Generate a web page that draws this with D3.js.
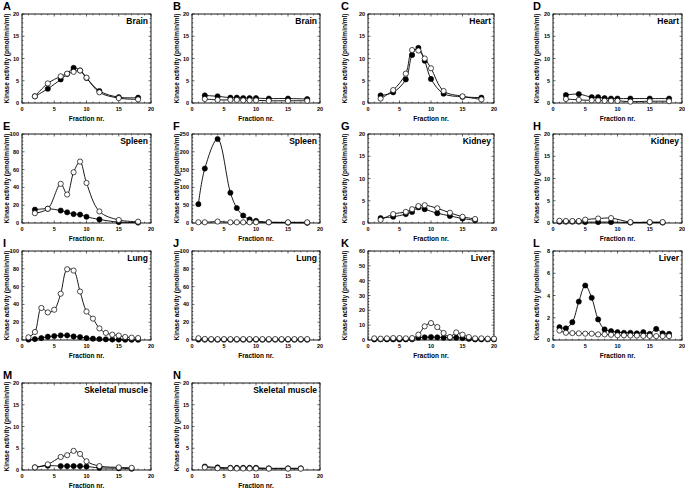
<!DOCTYPE html>
<html>
<head>
<style>
  body { margin: 0; background: #fff; overflow: hidden; }
  text { font-family: "Liberation Sans", Arial, sans-serif; font-weight: bold; fill: #000; }
  .tick text { font-size: 5.5px; }
  .letter { font-size: 11px; }
  .tissue { font-size: 8.5px; }
  .axlab { font-size: 6.5px; }
</style>
<script src="https://d3js.org/d3.v7.min.js"></script>
</head>
<body>
<svg width="685" height="491"></svg>
<script>
// ---- data ----
var fracStd = [2, 4, 6, 7, 8, 9, 10, 12, 15, 18];

var brainFilledA = [1.5, 3.2, 5.3, 6.5, 7.9, 7.3, 5.6, 2.7, 1.3, 1.2];
var brainOpenA   = [1.5, 4.4, 6.0, 6.6, 7.0, 7.3, 5.7, 2.4, 1.1, 0.8];
var brainFilledB = [1.7, 1.5, 1.2, 1.2, 1.1, 1.1, 1.1, 1.0, 1.0, 0.9];
var brainOpenB   = [0.9, 0.7, 0.7, 0.7, 0.6, 0.6, 0.6, 0.5, 0.5, 0.5];

var heartFilledC = [1.7, 2.4, 5.3, 10.8, 12.4, 9.5, 5.4, 2.1, 1.4, 1.2];
var heartOpenC   = [1.0, 2.9, 6.6, 11.9, 11.8, 10.0, 7.8, 2.7, 1.5, 0.8];
var heartFilledD = [1.8, 2.0, 1.3, 1.3, 1.1, 1.0, 1.0, 1.0, 1.0, 1.0];
var heartOpenD   = [0.9, 0.7, 0.6, 0.6, 0.5, 0.5, 0.5, 0.3, 0.4, 0.4];

var spleenFilledE = [15, 16, 14, 12, 10, 9.5, 7, 4, 1, 0.5];
var spleenOpenE   = [11, 16, 44, 32, 57, 69, 45, 13, 3.4, 1.5];

var fracF = [1, 2, 4, 6, 7, 8, 9, 10, 12, 15, 18];
var spleenFilledF = [53, 153, 236, 85, 42, 21, 10, 6, 2, 1, 0.5];
var spleenOpenF   = [2, 2, 4, 2, 2, 2, 2, 2, 2, 2, 2];

var fracG = [2, 4, 6, 7, 8, 9, 11, 13, 15, 17];
var kidneyFilledG = [1.1, 1.4, 2.0, 2.5, 3.5, 3.1, 2.2, 1.6, 1.0, 0.6];
var kidneyOpenG   = [0.7, 2.0, 2.5, 3.1, 3.8, 4.0, 3.3, 2.3, 1.4, 0.9];

var fracH = [1, 2, 3, 4, 5, 7, 9, 12, 15, 17];
var kidneyFilledH = [0.3, 0.3, 0.3, 0.3, 0.2, 0.2, 0.2, 0.1, 0.1, 0.1];
var kidneyOpenH   = [0.5, 0.45, 0.45, 0.45, 0.75, 1.0, 1.1, 0.2, 0.2, 0.2];

var frac18 = [1, 2, 3, 4, 5, 6, 7, 8, 9, 10, 11, 12, 13, 14, 15, 16, 17, 18];
var lungFilledI = [0.5, 1, 2.2, 3.7, 4.5, 5.2, 5.2, 4, 3.3, 2.2, 1.5, 1.1, 0.8, 0.5, 0.5, 0.3, 0.3, 0.3];
var lungOpenI   = [3, 9, 36, 31, 34, 52, 79.5, 78, 54.5, 32, 24, 13, 8, 6, 5, 3.4, 2.6, 2.2];
var lungFilledJ = [0.5, 0.4, 0.4, 0.4, 0.4, 0.4, 0.4, 0.4, 0.4, 0.4, 0.4, 0.4, 0.4, 0.4, 0.4, 0.4, 0.4, 0.4];
var lungOpenJ   = [2, 1.2, 1, 1, 1, 1, 1, 1, 1, 1, 1, 1, 1, 1, 1, 1, 1, 1];

var frac20 = [1, 2, 3, 4, 5, 6, 7, 8, 9, 10, 11, 12, 13, 14, 15, 16, 17, 18, 19, 20];
var liverFilledK = [0.4, 0.4, 0.4, 0.4, 0.4, 0.4, 0.5, 1.6, 1.8, 2.0, 1.8, 1.6, 1.6, 1.6, 1.3, 0.8, 0.4, 0.4, 0.4, 0.4];
var liverOpenK   = [1.1, 0.9, 1.1, 1.3, 1.3, 1.1, 1.3, 3.6, 9.2, 11.4, 8.7, 4.7, 2.0, 5.1, 3.6, 2.0, 1.1, 1.1, 0.9, 0.9];
var liverFilledL = [1.15, 1.05, 1.6, 3.45, 4.9, 3.8, 1.85, 0.95, 0.8, 0.7, 0.65, 0.65, 0.6, 0.7, 0.55, 1.0, 0.6, 0.55];
var liverOpenL   = [0.85, 0.65, 0.62, 0.6, 0.57, 0.57, 0.5, 0.5, 0.47, 0.42, 0.42, 0.4, 0.4, 0.37, 0.37, 0.35, 0.35, 0.35];

var fracM = [2, 4, 6, 7, 8, 9, 10, 12, 15, 17];
var muscleFilledM = [0.6, 1.0, 0.9, 0.9, 0.9, 0.9, 0.8, 0.5, 0.4, 0.3];
var muscleOpenM   = [0.6, 1.3, 3.0, 3.4, 4.4, 3.7, 2.0, 0.9, 0.6, 0.5];
var muscleFilledN = [0.8, 0.6, 0.5, 0.5, 0.5, 0.5, 0.5, 0.4, 0.4, 0.4];
var muscleOpenN   = [0.6, 0.4, 0.4, 0.35, 0.35, 0.35, 0.35, 0.3, 0.3, 0.3];

var letters = ["A","B","C","D","E","F","G","H","I","J","K","L","M","N"];
var tissues = ["Brain","Brain","Heart","Heart","Spleen","Spleen","Kidney","Kidney","Lung","Lung","Liver","Liver","Skeletal muscle","Skeletal muscle"];
var yMaxes  = [20, 20, 20, 20, 100, 250, 20, 20, 100, 100, 60, 8, 20, 20];
var yStepsMajor = [5, 5, 5, 5, 20, 50, 5, 5, 20, 20, 10, 2, 5, 5];
var xTicks = [0, 5, 10, 15, 20];

// ---- layout ----
var cols = [{x: 22, w: 129, lab: 7}, {x: 192, w: 128, lab: 177}, {x: 368, w: 126, lab: 345}, {x: 553, w: 129, lab: 537}];
var rows = [{y: 14, h: 89}, {y: 134, h: 89}, {y: 251, h: 89}, {y: 383, h: 87}];

var series = [
  [fracStd, brainFilledA, brainOpenA], [fracStd, brainFilledB, brainOpenB],
  [fracStd, heartFilledC, heartOpenC], [fracStd, heartFilledD, heartOpenD],
  [fracStd, spleenFilledE, spleenOpenE], [fracF, spleenFilledF, spleenOpenF],
  [fracG, kidneyFilledG, kidneyOpenG], [fracH, kidneyFilledH, kidneyOpenH],
  [frac18, lungFilledI, lungOpenI], [frac18, lungFilledJ, lungOpenJ],
  [frac20, liverFilledK, liverOpenK], [frac18, liverFilledL, liverOpenL],
  [fracM, muscleFilledM, muscleOpenM], [fracM, muscleFilledN, muscleOpenN]
];

var svg = d3.select("svg");

series.forEach(function (s, i) {
  var c = cols[i % 4], r = rows[Math.floor(i / 4)];
  var x = d3.scaleLinear().domain([0, 20]).range([c.x, c.x + c.w]);
  var y = d3.scaleLinear().domain([0, yMaxes[i]]).range([r.y + r.h, r.y]);
  var g = svg.append("g");
  var step = yStepsMajor[i];
  var yTicks = d3.range(0, yMaxes[i] + step / 2, step);
  var yMinor = d3.range(0, yMaxes[i] + 1e-9, step / 5);
  var xMinor = d3.range(0, 21, 1);

  // inward ticks on all four sides
  var tk = g.append("g").attr("stroke", "#000").attr("stroke-width", 0.6);
  xMinor.forEach(function (v) {
    var L = v % 5 === 0 ? 2.5 : 1.3;
    tk.append("line").attr("x1", x(v)).attr("x2", x(v)).attr("y1", r.y + r.h).attr("y2", r.y + r.h - L);
    tk.append("line").attr("x1", x(v)).attr("x2", x(v)).attr("y1", r.y).attr("y2", r.y + L);
  });
  yMinor.forEach(function (v, k) {
    var L = k % 5 === 0 ? 2.5 : 1.3;
    tk.append("line").attr("y1", y(v)).attr("y2", y(v)).attr("x1", c.x).attr("x2", c.x + L);
    tk.append("line").attr("y1", y(v)).attr("y2", y(v)).attr("x1", c.x + c.w).attr("x2", c.x + c.w - L);
  });

  g.append("rect").attr("x", c.x).attr("y", r.y).attr("width", c.w).attr("height", r.h)
    .attr("fill", "none").attr("stroke", "#000").attr("stroke-width", 0.9);

  var xa = g.append("g").attr("class", "tick");
  xTicks.forEach(function (v) {
    xa.append("text").attr("x", x(v)).attr("y", r.y + r.h + 8).attr("text-anchor", "middle").text(v);
  });
  yTicks.forEach(function (v) {
    xa.append("text").attr("x", c.x - 3).attr("y", y(v) + 2).attr("text-anchor", "end").text(v);
  });

  g.append("text").attr("class", "letter").attr("x", c.lab - 4).attr("y", r.y - 4).text(letters[i]);
  g.append("text").attr("class", "tissue").attr("x", c.x + c.w - 3).attr("y", r.y + 10)
    .attr("text-anchor", "end").text(tissues[i]);
  g.append("text").attr("class", "axlab").attr("x", c.x + c.w / 2).attr("y", r.y + r.h + 18)
    .attr("text-anchor", "middle").text("Fraction nr.");
  g.append("text").attr("class", "axlab")
    .attr("transform", "translate(" + (c.lab + 2) + "," + (r.y + r.h / 2) + ") rotate(-90)")
    .attr("text-anchor", "middle").text("Kinase activity (pmol/min/ml)");

  var fr = s[0];
  var line = d3.line().curve(d3.curveCatmullRom.alpha(0.5))
    .x(function (d) { return x(d[0]); }).y(function (d) { return y(d[1]); });
  var filled = fr.map(function (f, k) { return [f, s[1][k]]; });
  var open = fr.map(function (f, k) { return [f, s[2][k]]; });

  g.append("path").attr("d", line(filled)).attr("fill", "none").attr("stroke", "#000").attr("stroke-width", 0.9);
  g.append("path").attr("d", line(open)).attr("fill", "none").attr("stroke", "#000").attr("stroke-width", 0.9);
  g.selectAll(".f").data(filled).enter().append("circle")
    .attr("cx", function (d) { return x(d[0]); }).attr("cy", function (d) { return y(d[1]); })
    .attr("r", 2.6).attr("fill", "#000").attr("stroke", "#000").attr("stroke-width", 0.6);
  g.selectAll(".o").data(open).enter().append("circle")
    .attr("cx", function (d) { return x(d[0]); }).attr("cy", function (d) { return y(d[1]); })
    .attr("r", 2.6).attr("fill", "#fff").attr("stroke", "#000").attr("stroke-width", 0.7);
});
</script>
</body>
</html>
